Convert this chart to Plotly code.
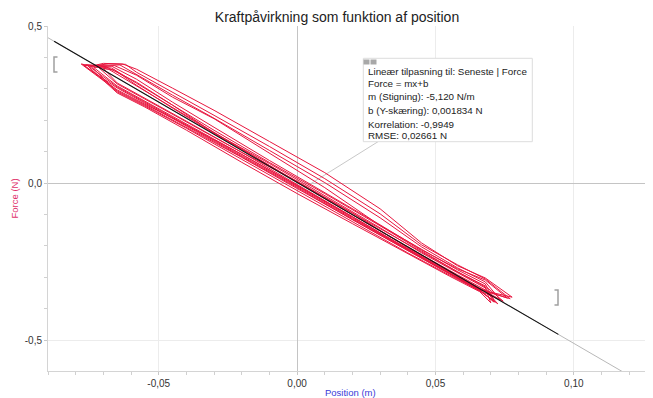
import plotly.graph_objects as go

# ---- data (position in m, force in N) ----
position_m = [
    -0.0775, -0.065, -0.055, -0.040, -0.020, 0.000, 0.020, 0.040, 0.055, 0.066, 0.0777,
    0.068, 0.058, 0.045, 0.030, 0.010, -0.010, -0.030, -0.045, -0.058, -0.063, -0.070,
    -0.0745, -0.065, -0.055, -0.040, -0.020, 0.000, 0.020, 0.040, 0.055, 0.066, 0.0735,
    0.068, 0.058, 0.045, 0.030, 0.010, -0.010, -0.030, -0.045, -0.058, -0.064,
    -0.0770, -0.065, -0.055, -0.040, -0.020, 0.000, 0.020, 0.040, 0.055, 0.066, 0.0715,
    0.068, 0.058, 0.045, 0.030, 0.010, -0.010, -0.030, -0.045, -0.058, -0.066,
    -0.0735, -0.065, -0.055, -0.040, -0.020, 0.000, 0.020, 0.040, 0.055, 0.066, 0.0760,
    0.068, 0.058, 0.045, 0.030, 0.010, -0.010, -0.030, -0.045, -0.058, -0.067,
    -0.0760, -0.065, -0.055, -0.040, -0.020, 0.000, 0.020, 0.040, 0.055, 0.066, 0.0700,
    0.068, 0.058, 0.045, 0.030, 0.010, -0.010, -0.030, -0.045, -0.058, -0.067,
    -0.0720, -0.065, -0.055, -0.040, -0.020, 0.000, 0.020, 0.040, 0.055, 0.066, 0.0745,
    0.068, 0.058, 0.045, 0.030, 0.010, -0.010, -0.030, -0.045, -0.058, -0.068,
    -0.0780, -0.065, -0.055, -0.040, -0.020, 0.000, 0.020, 0.040, 0.055, 0.066, 0.0725,
    0.068, 0.058, 0.045, 0.030, 0.010, -0.010, -0.030, -0.045, -0.058, -0.066,
    -0.0700, -0.065, -0.055, -0.040, -0.020, 0.000, 0.020, 0.040, 0.055, 0.066, 0.0770,
    0.068, 0.058, 0.045, 0.030, 0.010, -0.010, -0.030, -0.045, -0.058, -0.062, -0.068,
    -0.0750, -0.065, -0.055, -0.040, -0.020, 0.000, 0.020, 0.040, 0.055, 0.066, 0.0710,
    0.068, 0.058, 0.045, 0.030, 0.010, -0.010, -0.030, -0.045, -0.058, -0.069, -0.0765,
]
force_N = [
    0.378, 0.2966, 0.2514, 0.1846, 0.0912, -0.0077, -0.1101, -0.2125, -0.2862, -0.3393, -0.363,
    -0.3019, -0.2632, -0.1906, -0.0818, 0.0333, 0.1325, 0.2317, 0.3022, 0.3624, 0.379, 0.381,
    0.372, 0.2901, 0.2454, 0.1746, 0.0756, -0.0236, -0.1229, -0.2220, -0.2925, -0.3425, -0.372,
    -0.3144, -0.2698, -0.2032, -0.1105, 0.0016, 0.1040, 0.2064, 0.2799, 0.3465, 0.376,
    0.374, 0.3028, 0.2548, 0.1812, 0.0852, -0.0141, -0.1165, -0.2157, -0.2893, -0.3425, -0.379,
    -0.3210, -0.2762, -0.2096, -0.1350, -0.0144, 0.0950, 0.2050, 0.2735, 0.3433, 0.374,
    0.368, 0.3092, 0.2611, 0.1876, 0.0915, -0.0077, -0.1070, -0.2094, -0.2830, -0.3361, -0.366,
    -0.3084, -0.2729, -0.2127, -0.1328, -0.0304, 0.0720, 0.1777, 0.2576, 0.3306, 0.372,
    0.376, 0.2869, 0.2421, 0.1686, 0.0662, -0.0332, -0.1292, -0.2253, -0.2957, -0.3456, -0.381,
    -0.3337, -0.2857, -0.2222, -0.1423, -0.0399, 0.0625, 0.1600, 0.2481, 0.3178, 0.366,
    0.370, 0.3156, 0.2675, 0.1939, 0.0978, 0.0060, -0.0950, -0.2062, -0.2798, -0.3329, -0.376,
    -0.3274, -0.2825, -0.2191, -0.1454, -0.0462, 0.0562, 0.1618, 0.2417, 0.3115, 0.362,
    0.379, 0.2933, 0.2484, 0.1780, 0.0819, -0.0172, -0.1165, -0.2157, -0.2893, -0.3425, -0.384,
    -0.3400, -0.2920, -0.2286, -0.1518, -0.0494, 0.0562, 0.1586, 0.2386, 0.3115, 0.360,
    0.365, 0.3187, 0.2707, 0.1971, 0.0978, -0.0046, -0.1070, -0.2094, -0.2862, -0.3393, -0.368,
    -0.3051, -0.2602, -0.1968, -0.0978, 0.0142, 0.1166, 0.2158, 0.2894, 0.3528, 0.378, 0.380,
    0.371, 0.3060, 0.2580, 0.1843, 0.0883, -0.0109, -0.1133, -0.2125, -0.2862, -0.3393, -0.378,
    -0.3305, -0.2825, -0.2159, -0.1359, -0.0335, 0.0657, 0.1681, 0.2481, 0.3211, 0.370, 0.377,
]

# linear fit parameters (from the fit box)
fit_m = -5.120
fit_b = 0.001834
fit_range = [-0.0878, 0.0944]      # selected region (between the brackets)
fit_extent = [-0.09, 0.125]        # faint extension across the plot

x_tick_vals = [-0.05, 0.0, 0.05, 0.10]
x_tick_text = ["-0,05", "0,00", "0,05", "0,10"]
y_tick_vals = [-0.5, 0.0, 0.5]
y_tick_text = ["-0,5", "0,0", "0,5"]

fit_lines = [
    "Lineær tilpasning til: Seneste | Force",
    "Force = mx+b",
    "m (Stigning): -5,120 N/m",
    "b (Y-skæring): 0,001834 N",
    "Korrelation: -0,9949",
    "RMSE: 0,02661 N",
]

FONT = "Liberation Sans, Arial, sans-serif"

# page offset of the plot div (browser default body margin)
OFF = 8
W, H = 653 - OFF, 398 - OFF
# plot area in absolute window pixels
PL, PR, PT, PB = 48, 653, 26, 371
XR = [-0.0900, 0.1286]
YR = [-0.598, 0.5]

fig = go.Figure()

fig.add_trace(go.Scatter(
    x=fit_extent, y=[fit_m * v + fit_b for v in fit_extent],
    mode="lines", line=dict(color="#b8b8b8", width=1), hoverinfo="skip", showlegend=False))

fig.add_trace(go.Scatter(
    x=position_m, y=force_N, mode="lines",
    line=dict(color="#e8163f", width=1), showlegend=False))

fig.add_trace(go.Scatter(
    x=fit_range, y=[fit_m * v + fit_b for v in fit_range],
    mode="lines", line=dict(color="#111111", width=1.1), hoverinfo="skip", showlegend=False))


def px2x(px):
    return XR[0] + (px - PL) / (PR - PL) * (XR[1] - XR[0])


def py2y(py):
    return YR[1] - (py - PT) / (PB - PT) * (YR[1] - YR[0])


shapes = []
# leader line from fit box to the fit line
shapes.append(dict(type="line", x0=px2x(378), y0=py2y(141.7), x1=px2x(305), y1=py2y(187.3),
                   line=dict(color="#c8c8c8", width=1), layer="below"))
# fit box
shapes.append(dict(type="rect", x0=px2x(363.3), y0=py2y(58.3), x1=px2x(532.3), y1=py2y(141.7),
                   line=dict(color="#dddddd", width=1), fillcolor="white"))
# small icons on the box
shapes.append(dict(type="rect", x0=px2x(363.5), y0=py2y(59.5), x1=px2x(369.5), y1=py2y(64.5),
                   line=dict(width=0), fillcolor="#a8a8a8"))
shapes.append(dict(type="rect", x0=px2x(370.5), y0=py2y(59.5), x1=px2x(376.5), y1=py2y(64.5),
                   line=dict(width=0), fillcolor="#a8a8a8"))
# range brackets
shapes.append(dict(type="path",
                   path=f"M {px2x(57.5)} {py2y(57)} L {px2x(54)} {py2y(57)} L {px2x(54)} {py2y(72)} L {px2x(57.5)} {py2y(72)}",
                   line=dict(color="#a0a0a0", width=1.5)))
shapes.append(dict(type="path",
                   path=f"M {px2x(554.5)} {py2y(290)} L {px2x(558)} {py2y(290)} L {px2x(558)} {py2y(305)} L {px2x(554.5)} {py2y(305)}",
                   line=dict(color="#a0a0a0", width=1.5)))

annotations = []
line_py = [71.7, 83, 96, 110, 124, 135.5]
for txt, py in zip(fit_lines, line_py):
    annotations.append(dict(x=px2x(366), y=py2y(py), xref="x", yref="y", text=txt,
                            showarrow=False, xanchor="left", yanchor="middle",
                            font=dict(family=FONT, size=9.8, color="#222222")))
annotations.append(dict(x=0.5, y=0, xref="paper", yref="paper", yshift=-21, text="Position (m)",
                        showarrow=False, xanchor="center", yanchor="middle",
                        font=dict(family=FONT, size=9.5, color="#3a3ad8")))
annotations.append(dict(x=0, y=0.5, xref="paper", yref="paper", xshift=-34, text="Force (N)",
                        textangle=-90, showarrow=False, xanchor="center", yanchor="middle",
                        font=dict(family=FONT, size=9.5, color="#e0306a")))

axis_common = dict(showline=True, linecolor="#d4d4d4", linewidth=1, mirror=False,
                   ticks="outside", ticklen=3, tickcolor="#c8c8c8",
                   gridcolor="#ececec", gridwidth=1,
                   zeroline=True, zerolinecolor="#c4c4c4", zerolinewidth=1,
                   tickfont=dict(family=FONT, size=10, color="#333333"),
                   fixedrange=True, showspikes=False, automargin=False)

fig.update_layout(
    width=W, height=H,
    margin=dict(l=PL - OFF, r=(653 - PR), t=PT - OFF, b=(398 - PB), pad=0, autoexpand=False),
    paper_bgcolor="white", plot_bgcolor="white",
    separators=",.",
    title=dict(text="Kraftpåvirkning som funktion af position", x=(337 - OFF) / W, xref="container",
               xanchor="center", y=1 - (17 - OFF) / H, yref="container", yanchor="middle",
               font=dict(family=FONT, size=14, color="#222222")),
    xaxis=dict(range=XR, tickmode="array", tickvals=x_tick_vals, ticktext=x_tick_text,
               minor=dict(dtick=0.01, tick0=0, ticks="outside", ticklen=3, tickcolor="#d0d0d0",
                          showgrid=False),
               **axis_common),
    yaxis=dict(range=YR, tickmode="array", tickvals=y_tick_vals, ticktext=y_tick_text,
               minor=dict(dtick=0.1, tick0=0, ticks="outside", ticklen=3, tickcolor="#d0d0d0",
                          showgrid=False),
               ticklabelstandoff=0,
               **axis_common),
    shapes=shapes, annotations=annotations,
    showlegend=False,
)

fig.write_html("out.html")
